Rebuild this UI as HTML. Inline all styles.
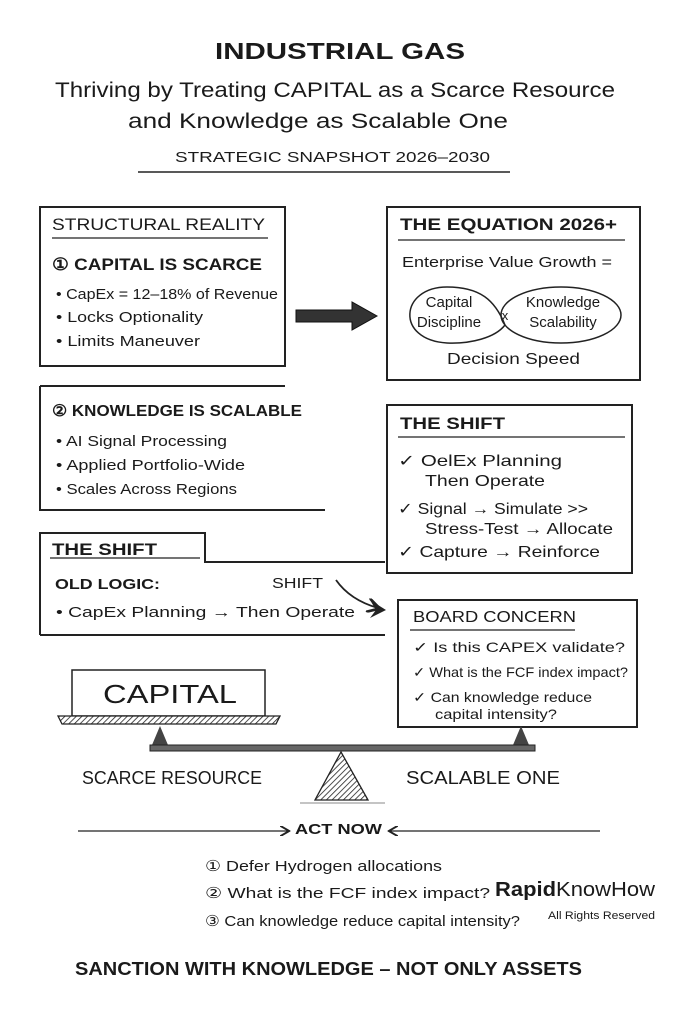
<!DOCTYPE html>
<html><head><meta charset="utf-8"><style>
html,body{margin:0;padding:0;background:#fff}
svg{display:block}
text{font-family:"Liberation Sans",sans-serif;fill:#1a1a1a}
</style></head><body>
<svg width="683" height="1024" viewBox="0 0 683 1024" xmlns="http://www.w3.org/2000/svg">
<defs>
<pattern id="h" width="4" height="4" patternUnits="userSpaceOnUse" patternTransform="rotate(45)">
<rect width="4" height="4" fill="#fff"/><line x1="0" y1="0" x2="0" y2="4" stroke="#222" stroke-width="1.6"/></pattern>
<marker id="ar" markerWidth="8" markerHeight="8" refX="6" refY="4" orient="auto"><path d="M0,0 L7,4 L0,8" fill="none" stroke="#222" stroke-width="1.5"/></marker>
</defs>
<g lengthAdjust="spacingAndGlyphs">
<text x="215" y="59" font-size="23" font-weight="bold" textLength="250" lengthAdjust="spacingAndGlyphs">INDUSTRIAL GAS</text>
<text x="55" y="97" font-size="21" textLength="560" lengthAdjust="spacingAndGlyphs">Thriving by Treating CAPITAL as a Scarce Resource</text>
<text x="128" y="128" font-size="21" textLength="380" lengthAdjust="spacingAndGlyphs">and Knowledge as Scalable One</text>
<text x="175" y="162" font-size="15" textLength="315" lengthAdjust="spacingAndGlyphs">STRATEGIC SNAPSHOT 2026–2030</text>
</g>
<line x1="138" y1="172" x2="510" y2="172" stroke="#222" stroke-width="1.5"/>
<g fill="none" stroke="#222" stroke-width="2">
<rect x="40" y="207" width="245" height="159"/>
<rect x="387" y="207" width="253" height="173"/>
<path d="M40,386 L285,386 M40,386 L40,510 L325,510"/>
<rect x="387" y="405" width="245" height="168"/>
<path d="M40,635 L40,533 L205,533 L205,562 L385,562 M40,635 L385,635"/>
<rect x="398" y="600" width="239" height="127"/>
</g>
<g stroke="#222" stroke-width="1.3">
<line x1="52" y1="238" x2="268" y2="238"/>
<line x1="398" y1="240" x2="625" y2="240"/>
<line x1="398" y1="437" x2="625" y2="437"/>
<line x1="50" y1="558" x2="200" y2="558"/>
<line x1="410" y1="630" x2="575" y2="630"/>
</g>
<g>
<text x="52" y="230" font-size="17" textLength="213" lengthAdjust="spacingAndGlyphs">STRUCTURAL REALITY</text>
<text x="52" y="270" font-size="17" font-weight="bold" textLength="210" lengthAdjust="spacingAndGlyphs">① CAPITAL IS SCARCE</text>
<text x="56" y="299" font-size="15" textLength="222" lengthAdjust="spacingAndGlyphs">• CapEx = 12–18% of Revenue</text>
<text x="56" y="322" font-size="15" textLength="147" lengthAdjust="spacingAndGlyphs">• Locks Optionality</text>
<text x="56" y="346" font-size="15" textLength="144" lengthAdjust="spacingAndGlyphs">• Limits Maneuver</text>
<text x="400" y="230" font-size="17" font-weight="bold" textLength="217" lengthAdjust="spacingAndGlyphs">THE EQUATION 2026+</text>
<text x="402" y="267" font-size="15" textLength="210" lengthAdjust="spacingAndGlyphs">Enterprise Value Growth =</text>
<text x="449" y="307" font-size="15" text-anchor="middle">Capital</text>
<text x="449" y="327" font-size="15" text-anchor="middle">Discipline</text>
<text x="505" y="320" font-size="13" text-anchor="middle">x</text>
<text x="563" y="307" font-size="15" text-anchor="middle">Knowledge</text>
<text x="563" y="327" font-size="15" text-anchor="middle">Scalability</text>
<text x="447" y="364" font-size="16" textLength="133" lengthAdjust="spacingAndGlyphs">Decision Speed</text>
<text x="52" y="416" font-size="16" font-weight="bold" textLength="250" lengthAdjust="spacingAndGlyphs">② KNOWLEDGE IS SCALABLE</text>
<text x="56" y="446" font-size="15" textLength="171" lengthAdjust="spacingAndGlyphs">• AI Signal Processing</text>
<text x="56" y="470" font-size="15" textLength="189" lengthAdjust="spacingAndGlyphs">• Applied Portfolio-Wide</text>
<text x="56" y="494" font-size="15" textLength="181" lengthAdjust="spacingAndGlyphs">• Scales Across Regions</text>
<text x="400" y="429" font-size="17" font-weight="bold" textLength="105" lengthAdjust="spacingAndGlyphs">THE SHIFT</text>
<text x="398" y="466" font-size="16" textLength="164" lengthAdjust="spacingAndGlyphs">✓ OelEx Planning</text>
<text x="425" y="486" font-size="16" textLength="120" lengthAdjust="spacingAndGlyphs">Then Operate</text>
<text x="398" y="514" font-size="16" textLength="190" lengthAdjust="spacingAndGlyphs">✓ Signal → Simulate &gt;&gt;</text>
<text x="425" y="534" font-size="16" textLength="188" lengthAdjust="spacingAndGlyphs">Stress-Test → Allocate</text>
<text x="398" y="557" font-size="16" textLength="202" lengthAdjust="spacingAndGlyphs">✓ Capture → Reinforce</text>
<text x="52" y="555" font-size="17" font-weight="bold" textLength="105" lengthAdjust="spacingAndGlyphs">THE SHIFT</text>
<text x="55" y="589" font-size="15" font-weight="bold" textLength="105" lengthAdjust="spacingAndGlyphs">OLD LOGIC:</text>
<text x="272" y="588" font-size="15" textLength="51" lengthAdjust="spacingAndGlyphs">SHIFT</text>
<text x="56" y="617" font-size="15" textLength="299" lengthAdjust="spacingAndGlyphs">• CapEx Planning → Then Operate</text>
<text x="413" y="622" font-size="16" textLength="163" lengthAdjust="spacingAndGlyphs">BOARD CONCERN</text>
<text x="413" y="652" font-size="14" textLength="212" lengthAdjust="spacingAndGlyphs">✓ Is this CAPEX validate?</text>
<text x="413" y="677" font-size="14" textLength="215" lengthAdjust="spacingAndGlyphs">✓ What is the FCF index impact?</text>
<text x="413" y="702" font-size="14" textLength="179" lengthAdjust="spacingAndGlyphs">✓ Can knowledge reduce</text>
<text x="435" y="719" font-size="14" textLength="122" lengthAdjust="spacingAndGlyphs">capital intensity?</text>
</g>
<path d="M447,287 C400,287 395,340 447,343 C470,344 495,338 505,325 C495,300 480,287 447,287 Z" fill="none" stroke="#222" stroke-width="1.5"/>
<ellipse cx="561" cy="315" rx="60" ry="28" fill="none" stroke="#222" stroke-width="1.5"/>
<path d="M296,310 L352,310 L352,302 L377,316 L352,330 L352,322 L296,322 Z" fill="#333" stroke="#111"/>
<path d="M336,580 Q350,600 378,608" fill="none" stroke="#222" stroke-width="1.8" marker-end="url(#ar)"/>
<path d="M370,600 L386,610 L370,618 L376,610 Z" fill="#222"/>
<rect x="72" y="670" width="193" height="46" fill="#fff" stroke="#222" stroke-width="1.5"/>
<text x="103" y="703" font-size="26" textLength="134" lengthAdjust="spacingAndGlyphs">CAPITAL</text>
<path d="M58,716 L280,716 L276,724 L62,724 Z" fill="url(#h)" stroke="#222" stroke-width="1.3"/>
<path d="M160,726 L152,745 L168,745 Z" fill="#444"/>
<path d="M521,726 L513,745 L529,745 Z" fill="#444"/>
<rect x="150" y="745" width="385" height="6" fill="#666" stroke="#222"/>
<path d="M341,752 L315,800 L368,800 Z" fill="url(#h)" stroke="#222" stroke-width="1.3"/>
<line x1="300" y1="803" x2="385" y2="803" stroke="#888"/>
<text x="82" y="784" font-size="18" textLength="180" lengthAdjust="spacingAndGlyphs">SCARCE RESOURCE</text>
<text x="406" y="784" font-size="18" textLength="154" lengthAdjust="spacingAndGlyphs">SCALABLE ONE</text>
<line x1="78" y1="831" x2="288" y2="831" stroke="#222" stroke-width="1.3" marker-end="url(#ar)"/>
<line x1="600" y1="831" x2="390" y2="831" stroke="#222" stroke-width="1.3" marker-end="url(#ar)"/>
<text x="295" y="834" font-size="15" font-weight="bold" textLength="87" lengthAdjust="spacingAndGlyphs">ACT NOW</text>
<text x="205" y="871" font-size="15" textLength="237" lengthAdjust="spacingAndGlyphs">① Defer Hydrogen allocations</text>
<text x="205" y="898" font-size="15" textLength="285" lengthAdjust="spacingAndGlyphs">② What is the FCF index impact?</text>
<text x="205" y="926" font-size="15" textLength="315" lengthAdjust="spacingAndGlyphs">③ Can knowledge reduce capital intensity?</text>
<text x="495" y="896" font-size="20" font-weight="bold" textLength="160" lengthAdjust="spacingAndGlyphs">Rapid<tspan font-weight="normal">KnowHow</tspan></text>
<text x="548" y="919" font-size="11" textLength="107" lengthAdjust="spacingAndGlyphs">All Rights Reserved</text>
<text x="75" y="975" font-size="18" font-weight="bold" textLength="507" lengthAdjust="spacingAndGlyphs">SANCTION WITH KNOWLEDGE – NOT ONLY ASSETS</text>
</svg>
</body></html>
